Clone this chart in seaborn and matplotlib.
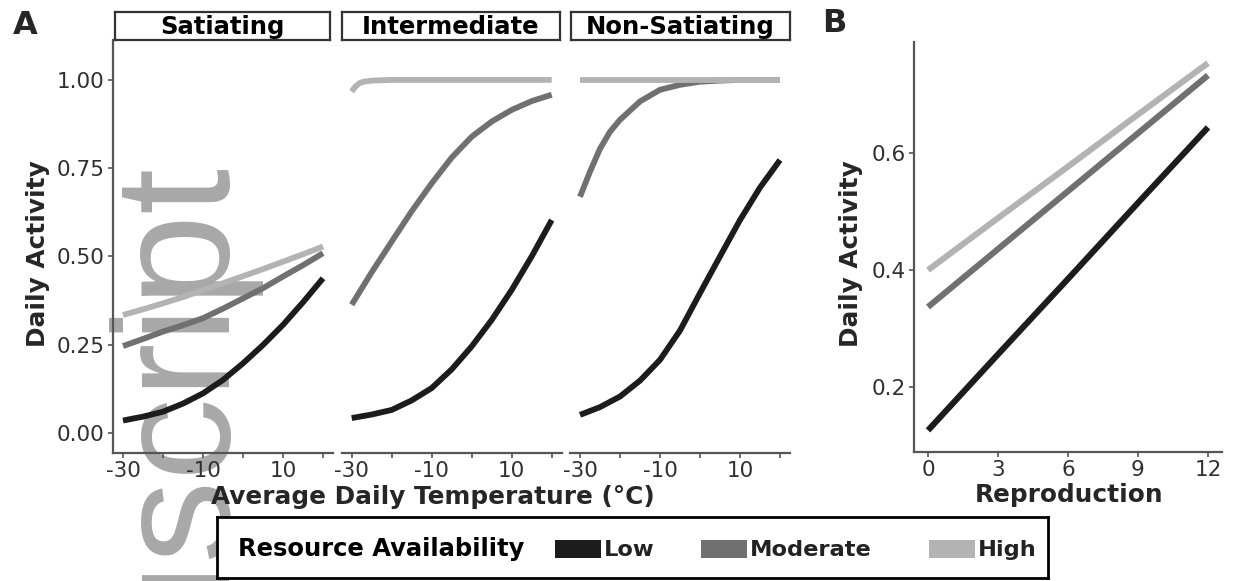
import matplotlib
matplotlib.use("Agg")
import matplotlib.pyplot as plt
from matplotlib.patches import Rectangle
import numpy as np
import pandas as pd
import seaborn as sns

# ---------------- data ----------------
temps = [-30, -25, -20, -15, -10, -5, 0, 5, 10, 15, 20]

sat_low = [0.035, 0.046, 0.060, 0.083, 0.112, 0.150, 0.197, 0.249, 0.306, 0.370, 0.438]
sat_mod = [0.246, 0.266, 0.287, 0.305, 0.325, 0.352, 0.381, 0.410, 0.443, 0.475, 0.509]
sat_high = [0.334, 0.350, 0.367, 0.385, 0.404, 0.424, 0.444, 0.464, 0.485, 0.506, 0.528]

int_low = [0.042, 0.052, 0.065, 0.092, 0.127, 0.180, 0.245, 0.320, 0.405, 0.500, 0.603]
int_mod = [0.363, 0.455, 0.542, 0.628, 0.707, 0.780, 0.839, 0.882, 0.915, 0.940, 0.958]
int_high_temps = [-30, -29, -28, -27, -25, -20, -10, 0, 10, 20]
int_high = [0.967, 0.982, 0.991, 0.995, 0.998, 1.0, 1.0, 1.0, 1.0, 1.0]

non_low = [0.051, 0.073, 0.103, 0.148, 0.207, 0.290, 0.396, 0.500, 0.603, 0.695, 0.773]
non_mod_temps = [-30, -27.5, -25, -22.5, -20, -15, -10, -5, 0, 5, 10, 15, 20]
non_mod = [0.669, 0.740, 0.805, 0.853, 0.887, 0.939, 0.972, 0.986, 0.995, 0.998, 1.0, 1.0, 1.0]
non_high = [1.0, 1.0, 1.0, 1.0, 1.0, 1.0, 1.0, 1.0, 1.0, 1.0, 1.0]

facets = ["Satiating", "Intermediate", "Non-Satiating"]
levels = ["Low", "Moderate", "High"]
colors = ["#1c1c1c", "#707070", "#b3b3b3"]

repro = [0, 3, 6, 9, 12]
repro_low = [0.126, 0.256, 0.385, 0.515, 0.644]
repro_mod = [0.337, 0.436, 0.535, 0.634, 0.733]
repro_high = [0.400, 0.489, 0.577, 0.666, 0.754]

# ---------------- long tables ----------------
rows = []
def add(facet, level, xs, ys):
    for x, y in zip(xs, ys):
        rows.append({"Facet": facet, "Resource": level, "Temperature": x, "Activity": y})

add("Satiating", "Low", temps, sat_low)
add("Satiating", "Moderate", temps, sat_mod)
add("Satiating", "High", temps, sat_high)
add("Intermediate", "Low", temps, int_low)
add("Intermediate", "Moderate", temps, int_mod)
add("Intermediate", "High", int_high_temps, int_high)
add("Non-Satiating", "Low", temps, non_low)
add("Non-Satiating", "Moderate", non_mod_temps, non_mod)
add("Non-Satiating", "High", temps, non_high)
dfA = pd.DataFrame(rows)

dfB = pd.DataFrame({
    "Reproduction": repro * 3,
    "Activity": repro_low + repro_mod + repro_high,
    "Resource": ["Low"] * 5 + ["Moderate"] * 5 + ["High"] * 5,
})

# ---------------- figure ----------------
sns.set_theme(style="ticks")
plt.rcParams["font.family"] = ["DejaVu Sans"]

W, H = 1238, 581
fig = plt.figure(figsize=(W / 100, H / 100), dpi=100)
fig.patch.set_facecolor("white")

def ax_px(l, t, r, b, **kw):
    return fig.add_axes([l / W, 1 - b / H, (r - l) / W, (b - t) / H], **kw)

AX_COL = "#555555"
TXT_COL = "#303030"
TITLE_FS = 17.8
palette = dict(zip(levels, colors))

# watermark (behind everything)
fig.text(251 / W, 1 - 154 / H, "Manuscript", rotation=90, ha="right", va="top",
         fontsize=119, color="#a8a8a8", family=["Liberation Sans", "DejaVu Sans"],
         zorder=-5)

facet_px = [(113, 333), (341.7, 561.7), (570, 790)]
strip_px = [(115, 330), (342, 560), (571, 790)]

for i, (facet, (l, r)) in enumerate(zip(facets, facet_px)):
    ax = ax_px(l, 40, r, 453)
    ax.set_facecolor("none")
    sub = dfA[dfA["Facet"] == facet]
    sns.lineplot(data=sub, x="Temperature", y="Activity", hue="Resource",
                 hue_order=levels, palette=palette, estimator=None, sort=True,
                 linewidth=4.2, legend=False, ax=ax, solid_capstyle="butt")
    ax.set_xlim(-32.5, 22.5)
    ax.set_ylim(-0.057, 1.113)
    ax.set_xticks([-30, -20, -10, 0, 10, 20])
    ax.set_xticklabels(["-30", "", "-10", "", "10", ""])
    ax.set_xlabel("")
    ax.set_ylabel("")
    for s in ["top", "right"]:
        ax.spines[s].set_visible(False)
    ax.spines["bottom"].set_color(AX_COL)
    ax.spines["bottom"].set_linewidth(1.6)
    ax.tick_params(axis="x", length=3.5, width=1.2, color=AX_COL, pad=2.5,
                   labelsize=15.5, labelcolor=TXT_COL)
    if i == 0:
        ax.spines["left"].set_color(AX_COL)
        ax.spines["left"].set_linewidth(1.6)
        ax.set_yticks([0, 0.25, 0.5, 0.75, 1.0])
        ax.set_yticklabels(["0.00", "0.25", "0.50", "0.75", "1.00"])
        ax.tick_params(axis="y", length=3.5, width=1.2, color=AX_COL, pad=2.5,
                       labelsize=15.5, labelcolor=TXT_COL)
    else:
        ax.spines["left"].set_visible(False)
        ax.set_yticks([])
    # strip
    sl, sr = strip_px[i]
    sax = ax_px(sl, 12, sr, 40)
    sax.set_xticks([]); sax.set_yticks([])
    sax.set_facecolor("white")
    for s in sax.spines.values():
        s.set_color("#333333"); s.set_linewidth(1.6)
    sax.text(0.5, 0.47, facet, ha="center", va="center", fontsize=17.5,
             fontweight="bold", color="black", transform=sax.transAxes)

# Panel B
axB = ax_px(914, 42, 1222, 452)
axB.set_facecolor("none")
sns.lineplot(data=dfB, x="Reproduction", y="Activity", hue="Resource",
             hue_order=levels, palette=palette, estimator=None, sort=True,
             linewidth=4.4, legend=False, ax=axB, solid_capstyle="butt")
axB.set_xlim(-0.6, 12.6)
axB.set_ylim(0.089, 0.79)
axB.set_xticks(repro)
axB.set_xticklabels([str(v) for v in repro])
axB.set_yticks([0.2, 0.4, 0.6])
axB.set_yticklabels(["0.2", "0.4", "0.6"])
axB.set_xlabel(""); axB.set_ylabel("")
for s in ["top", "right"]:
    axB.spines[s].set_visible(False)
for s in ["left", "bottom"]:
    axB.spines[s].set_color(AX_COL)
    axB.spines[s].set_linewidth(1.6)
axB.tick_params(axis="both", length=3.5, width=1.2, color=AX_COL, pad=2.5,
                labelsize=15.5, labelcolor=TXT_COL)

# titles / labels
fig.text(25 / W, 1 - 25 / H, "A", ha="center", va="center", fontsize=23, fontweight="bold")
fig.text(834 / W, 1 - 24 / H, "B", ha="center", va="center", fontsize=23, fontweight="bold")
fig.text(38 / W, 1 - 254 / H, "Daily Activity", rotation=90, ha="center", va="center",
         fontsize=TITLE_FS, fontweight="bold")
fig.text(851 / W, 1 - 254 / H, "Daily Activity", rotation=90, ha="center", va="center",
         fontsize=TITLE_FS, fontweight="bold")
fig.text(433 / W, 1 - 497 / H, "Average Daily Temperature (\u00b0C)", ha="center",
         va="center", fontsize=TITLE_FS, fontweight="bold")
fig.text(1069 / W, 1 - 495 / H, "Reproduction", ha="center", va="center",
         fontsize=TITLE_FS, fontweight="bold")

# legend box
lax = ax_px(217, 517, 1048, 578)
lax.set_xlim(217, 1048)
lax.set_ylim(578, 517)
lax.set_xticks([]); lax.set_yticks([])
lax.set_facecolor("white")
for s in lax.spines.values():
    s.set_color("black"); s.set_linewidth(2.0)
lax.text(238, 549, "Resource Availability", ha="left", va="center", fontsize=17.5,
         fontweight="bold", color="black")
key_x = [555, 701, 929]
for lvl, col, kx in zip(levels, colors, key_x):
    lax.add_patch(Rectangle((kx, 540), 46, 18, facecolor=col, edgecolor="none"))
    lax.text(kx + 49, 550, lvl, ha="left", va="center", fontsize=16.2,
             fontweight="bold", color="#222222")

fig.savefig("out.png", dpi=100, facecolor="white")
